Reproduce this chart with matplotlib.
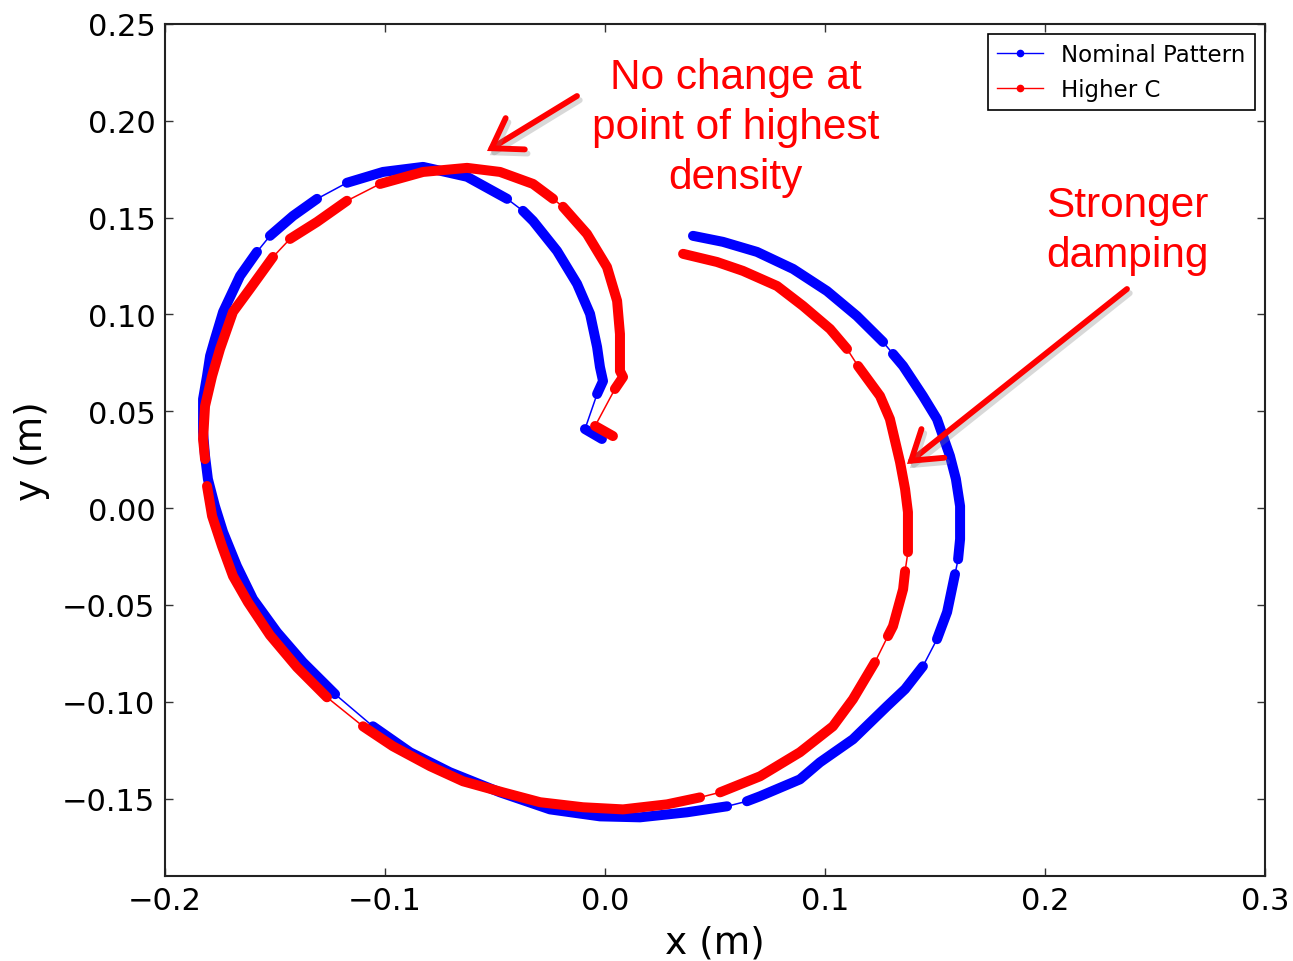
import matplotlib
matplotlib.use("Agg")
import matplotlib.pyplot as plt
from matplotlib.lines import Line2D
import matplotlib.patheffects as pe

# ---------------- data (metres) ----------------
nominal_x = [0.0400, 0.0536, 0.0691, 0.0855, 0.1009, 0.1145, 0.1264, 0.1309, 0.1355, 0.1445,
             0.1509, 0.1568, 0.1595, 0.1614, 0.1614, 0.1605, 0.1591, 0.1555, 0.1509, 0.1445,
             0.1364, 0.1282, 0.1127, 0.0977, 0.0886, 0.0705, 0.0645, 0.0555, 0.0373, 0.0159,
             -0.0023, -0.0250, -0.0477, -0.0705, -0.0886, -0.1055, -0.1227, -0.1373, -0.1491, -0.1600,
             -0.1673, -0.1736, -0.1773, -0.1805, -0.1818, -0.1827, -0.1827, -0.1809, -0.1795, -0.1773,
             -0.1736, -0.1659, -0.1582, -0.1523, -0.1418, -0.1309, -0.1173, -0.1009, -0.0827, -0.0627,
             -0.0445, -0.0373, -0.0327, -0.0218, -0.0127, -0.0068, -0.0036, -0.0023, -0.0009, -0.0036,
             -0.0091, -0.0014]
nominal_y = [0.1406, 0.1375, 0.1323, 0.1235, 0.1121, 0.0992, 0.0858, 0.0796, 0.0734, 0.0579,
             0.0460, 0.0269, 0.0150, 0.0010, -0.0160, -0.0264, -0.0341, -0.0537, -0.0677, -0.0817,
             -0.0935, -0.1023, -0.1194, -0.1313, -0.1401, -0.1488, -0.1514, -0.1540, -0.1571, -0.1597,
             -0.1592, -0.1556, -0.1468, -0.1364, -0.1261, -0.1127, -0.0961, -0.0796, -0.0641, -0.0470,
             -0.0300, -0.0124, 0.0010, 0.0150, 0.0269, 0.0393, 0.0563, 0.0682, 0.0786, 0.0873,
             0.1013, 0.1199, 0.1323, 0.1406, 0.1509, 0.1597, 0.1680, 0.1736, 0.1762, 0.1711,
             0.1597, 0.1535, 0.1483, 0.1328, 0.1158, 0.1003, 0.0832, 0.0729, 0.0656, 0.0589,
             0.0408, 0.0357]
# indices i where the step i -> i+1 is sparse (no dense samples)
nominal_gaps = [6, 15, 18, 26, 35, 52, 55, 60, 69]

higher_x = [0.0355, 0.0509, 0.0627, 0.0782, 0.0900, 0.1023, 0.1100, 0.1150, 0.1250, 0.1295,
            0.1341, 0.1364, 0.1377, 0.1377, 0.1364, 0.1355, 0.1309, 0.1286, 0.1227, 0.1127,
            0.1036, 0.0886, 0.0705, 0.0523, 0.0432, 0.0282, 0.0082, -0.0100, -0.0295, -0.0464,
            -0.0645, -0.0795, -0.0964, -0.1100, -0.1264, -0.1400, -0.1523, -0.1623, -0.1691, -0.1741,
            -0.1786, -0.1809, -0.1818, -0.1827, -0.1818, -0.1786, -0.1750, -0.1691, -0.1614, -0.1509,
            -0.1432, -0.1309, -0.1173, -0.1023, -0.0827, -0.0627, -0.0477, -0.0327, -0.0236, -0.0191,
            -0.0082, 0.0009, 0.0055, 0.0068, 0.0068, 0.0082, 0.0045, -0.0045, 0.0036]
higher_y = [0.1313, 0.1271, 0.1225, 0.1147, 0.1044, 0.0925, 0.0822, 0.0734, 0.0579, 0.0460,
            0.0238, 0.0098, -0.0021, -0.0227, -0.0326, -0.0419, -0.0610, -0.0661, -0.0796, -0.0987,
            -0.1127, -0.1261, -0.1385, -0.1468, -0.1494, -0.1530, -0.1556, -0.1545, -0.1519, -0.1468,
            -0.1411, -0.1333, -0.1230, -0.1127, -0.0977, -0.0822, -0.0656, -0.0486, -0.0351, -0.0196,
            -0.0041, 0.0114, 0.0253, 0.0357, 0.0527, 0.0682, 0.0822, 0.1013, 0.1132, 0.1297,
            0.1390, 0.1478, 0.1587, 0.1674, 0.1736, 0.1757, 0.1736, 0.1674, 0.1597, 0.1556,
            0.1416, 0.1245, 0.1070, 0.0899, 0.0708, 0.0677, 0.0615, 0.0424, 0.0372]
higher_gaps = [6, 13, 17, 23, 33, 41, 49, 52, 58, 66]

series_labels = ["Nominal Pattern", "Higher C"]
series_colors = ["#0000ff", "#ff0000"]
x_ticks = [-0.2, -0.1, 0.0, 0.1, 0.2, 0.3]
y_ticks = [-0.15, -0.10, -0.05, 0.00, 0.05, 0.10, 0.15, 0.20, 0.25]
note_top = "No change at\npoint of highest\ndensity"
note_right = "Stronger\ndamping"

# ---------------- figure ----------------
W, H = 1293, 962
fig = plt.figure(figsize=(W / 100, H / 100), dpi=100)
ax = fig.add_axes([165 / W, 1 - 877 / H, 1100 / W, 852 / H])


def draw_series(xs, ys, gaps, color):
    ax.plot(xs, ys, '-', color=color, lw=1.1, zorder=2)
    start = 0
    bounds = list(gaps) + [len(xs) - 1]
    for g in bounds:
        seg_x = xs[start:g + 1]
        seg_y = ys[start:g + 1]
        ax.plot(seg_x, seg_y, '-', color=color, lw=7.2, solid_capstyle='round',
                solid_joinstyle='round', zorder=3)
        start = g + 1


draw_series(nominal_x, nominal_y, nominal_gaps, series_colors[0])
draw_series(higher_x, higher_y, higher_gaps, series_colors[1])

ax.set_xlim(-0.2, 0.3)
ax.set_ylim(-0.19, 0.25)
ax.set_xticks(x_ticks)
ax.set_yticks(y_ticks)
ax.set_xticklabels([f"{v:.1f}".replace("-", "\u2212") for v in x_ticks])
ax.set_yticklabels([f"{v:.2f}".replace("-", "\u2212") for v in y_ticks])
ax.tick_params(direction='in', length=6, width=1, labelsize=22, pad=7,
               top=True, right=True, color='#333333')
for s in ax.spines.values():
    s.set_linewidth(1.5)
    s.set_color('#222222')

ax.set_xlabel("x (m)", fontsize=27, labelpad=7)
ax.set_ylabel("y (m)", fontsize=27, labelpad=9)

handles = [Line2D([], [], color=c, lw=1, marker='o', markersize=4.5) for c in series_colors]
leg = ax.legend(handles, series_labels, loc='upper right', fontsize=16.5, numpoints=1,
                fancybox=False, edgecolor='black', framealpha=1, borderaxespad=0.45,
                labelspacing=0.5)
leg.get_frame().set_linewidth(1.2)

# ---------------- annotations ----------------
def fpx(x, y):
    return (x / W, 1 - y / H)

fig.text(*fpx(735.5, 128), note_top, color='red', fontsize=30.5, family='Liberation Sans',
         ha='center', va='center', linespacing=1.33)
fig.text(*fpx(1127, 231), note_right, color='red', fontsize=30.5, family='Liberation Sans',
         ha='center', va='center', linespacing=1.33)

shadow = [pe.SimpleLineShadow(offset=(2, -3), shadow_color='gray', alpha=0.3), pe.Normal()]
for tail, tip in [((577, 97), (487, 152)), ((1127, 290), (907, 465))]:
    ax.annotate("", xy=fpx(*tip), xycoords='figure fraction',
                xytext=fpx(*tail), textcoords='figure fraction',
                arrowprops=dict(arrowstyle="->,head_length=0.5,head_width=0.33",
                                mutation_scale=40, color='red', lw=4.2,
                                shrinkA=0, shrinkB=0, capstyle='round',
                                joinstyle='miter', path_effects=shadow),
                annotation_clip=False)

fig.savefig("out.png", dpi=100)
